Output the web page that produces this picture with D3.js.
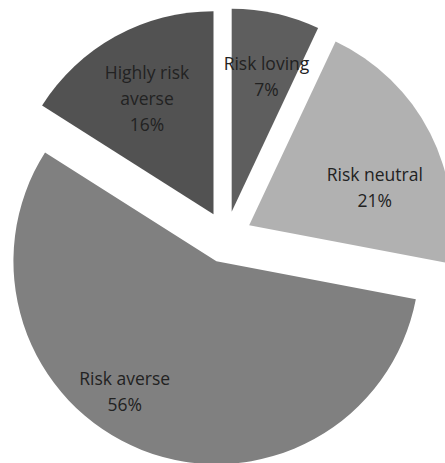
<!DOCTYPE html>
<html>
<head>
<meta charset="utf-8">
<script src="https://cdn.jsdelivr.net/npm/d3@7"></script>
<style>
  html, body { margin: 0; padding: 0; background: #fff; }
  svg { display: block; }
</style>
</head>
<body>
<svg id="chart" width="445" height="463"></svg>
<script>
// Risk attitude shares (percent), clockwise from 12 o'clock
const categories = ["Risk loving", "Risk neutral", "Risk averse", "Highly risk averse"];
const shares = [7, 21, 56, 16];
const labelLines = [["Risk loving"], ["Risk neutral"], ["Risk averse"], ["Highly risk", "averse"]];
const sliceColors = ["#5e5e5e", "#b1b1b1", "#808080", "#525252"];

const width = 445, height = 463;
const cx = 226, cy = 237;
const radius = 203;
const explode = 26;

// Label placement: angle (deg, clockwise from north) and distance from the slice apex
const labelPlacement = {
  "Risk loving": { angle: 14.5, dist: 139 },
  "Risk neutral": { angle: 73.5, dist: 131 },
  "Risk averse": { angle: 215, dist: 160 },
  "Highly risk averse": { angle: 330, dist: 133 }
};

const svg = d3.select("#chart");
const color = d3.scaleOrdinal().domain(categories).range(sliceColors);

const pie = d3.pie().sort(null).value(d => d.value);
const arc = d3.arc().innerRadius(0).outerRadius(radius);

const data = categories.map((c, i) => ({ name: c, value: shares[i], lines: labelLines[i] }));
const arcs = pie(data);

const slices = svg.append("g")
  .selectAll("g.slice")
  .data(arcs)
  .join("g")
  .attr("class", "slice")
  .attr("transform", d => {
    const mid = (d.startAngle + d.endAngle) / 2;
    return `translate(${cx + explode * Math.sin(mid)},${cy - explode * Math.cos(mid)})`;
  });

slices.append("path")
  .attr("d", arc)
  .attr("fill", d => color(d.data.name));

const fontSize = 17.5;
const lineGap = 26;

slices.each(function(d) {
  const g = d3.select(this);
  const p = labelPlacement[d.data.name];
  const a = p.angle * Math.PI / 180;
  const lx = p.dist * Math.sin(a);
  const ly = -p.dist * Math.cos(a);
  const lines = d.data.lines.concat([d.data.value + "%"]);
  const text = g.append("text")
    .attr("text-anchor", "middle")
    .attr("font-family", "'Open Sans', sans-serif")
    .attr("font-size", fontSize)
    .attr("fill", "#222");
  const top = ly - (lines.length - 1) * lineGap / 2;
  lines.forEach((t, i) => {
    text.append("tspan")
      .attr("x", lx)
      .attr("y", top + i * lineGap)
      .attr("dy", "0.35em")
      .text(t);
  });
});
</script>
</body>
</html>
